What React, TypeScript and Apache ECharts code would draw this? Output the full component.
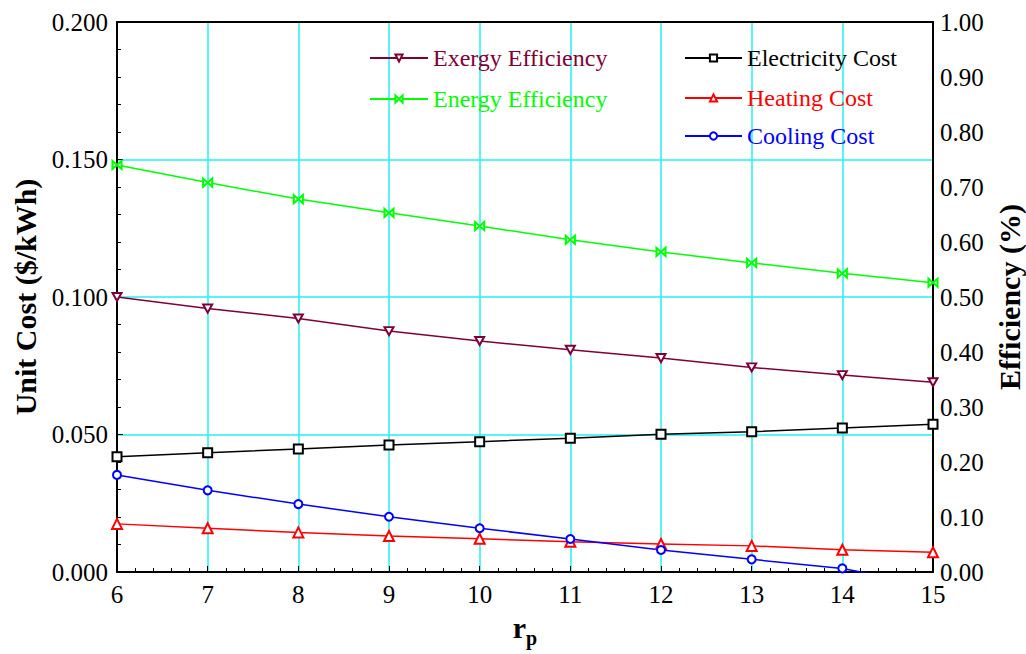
import React, { useEffect, useRef } from "react";
import * as echarts from "echarts";

const rp = [6, 7, 8, 9, 10, 11, 12, 13, 14, 15];
const exergyEff = [0.5, 0.479, 0.461, 0.438, 0.42, 0.404, 0.389, 0.372, 0.358, 0.345];
const energyEff = [0.74, 0.708, 0.678, 0.653, 0.629, 0.604, 0.582, 0.562, 0.543, 0.526];
const electricityCost = [0.0419, 0.0434, 0.0447, 0.0462, 0.0474, 0.0486, 0.0501, 0.051, 0.0524, 0.0537];
const heatingCost = [0.0175, 0.0159, 0.0144, 0.0131, 0.0121, 0.011, 0.0102, 0.0095, 0.0081, 0.0072];
const coolingCost = [0.0353, 0.0297, 0.0247, 0.0201, 0.0159, 0.012, 0.008, 0.0046, 0.0013, -0.005];

const FONT = "Liberation Serif";
const GRID_COLOR = "#22f2f2";

const pairs = (ys: number[]) => rp.map((x, i) => [x, ys[i]]);

export default function App() {
  const ref = useRef<HTMLDivElement>(null);
  useEffect(() => {
    if (!ref.current) return;
    const chart = echarts.init(ref.current, undefined, { renderer: "svg" });
    const legendBase = (name: string, color: string, left: number, top: number, w: number) => ({
      data: [name],
      left,
      top,
      orient: "horizontal",
      padding: 0,
      itemWidth: w,
      itemHeight: 9,
      selectedMode: false,
      textStyle: { color, fontSize: 24, fontFamily: FONT, lineHeight: 26 },
    });
    chart.setOption({
      animation: false,
      backgroundColor: "#fff",
      textStyle: { fontFamily: FONT },
      grid: { left: 117, right: 93, top: 22, bottom: 82, containLabel: false, outerBoundsMode: "none" },
      legend: [
        legendBase("Exergy Efficiency", "#7f0037", 369, 45, 58),
        legendBase("Energy Efficiency", "#00ff00", 369, 86, 58),
        legendBase("Electricity Cost", "#000000", 684, 45, 57),
        legendBase("Heating Cost", "#ff0000", 684, 85, 57),
        legendBase("Cooling Cost", "#0000ff", 684, 123, 57),
      ],
      xAxis: [
        {
          type: "value",
          min: 6,
          max: 15,
          interval: 1,
          position: "bottom",
          axisLine: { show: true, lineStyle: { color: "#000", width: 2 } },
          axisTick: { show: true, inside: true, length: 6, lineStyle: { color: "#000" } },
          minorTick: { show: true, splitNumber: 5, length: 4, lineStyle: { color: "#000" } },
          splitLine: { show: true, lineStyle: { color: GRID_COLOR, width: 1.5 } },
          axisLabel: { fontSize: 25, color: "#000", fontFamily: FONT, margin: 10 },
          name: "{r|r}{p|p}",
          nameLocation: "middle",
          nameGap: 40,
          nameTextStyle: {
            rich: {
              r: { fontSize: 30, fontWeight: "bold", fontFamily: FONT, color: "#000", lineHeight: 36, verticalAlign: "top" },
              p: { fontSize: 20, fontWeight: "bold", fontFamily: FONT, color: "#000", lineHeight: 36, verticalAlign: "bottom", padding: [12, 0, 0, 0] },
            },
          },
        },
        {
          type: "value",
          min: 6,
          max: 15,
          position: "top",
          axisLine: { show: true, onZero: false, lineStyle: { color: "#000", width: 2 } },
          axisTick: { show: false },
          axisLabel: { show: false },
          splitLine: { show: false },
        },
      ],
      yAxis: [
        {
          type: "value",
          min: 0,
          max: 0.2,
          interval: 0.05,
          position: "left",
          axisLine: { show: true, lineStyle: { color: "#000", width: 2 } },
          axisTick: { show: true, inside: true, length: 6, lineStyle: { color: "#000" } },
          minorTick: { show: true, splitNumber: 5, length: 4, lineStyle: { color: "#000" } },
          splitLine: { show: true, lineStyle: { color: GRID_COLOR, width: 1.5 } },
          axisLabel: { fontSize: 25, color: "#000", fontFamily: FONT, margin: 9, formatter: (v: number) => v.toFixed(3) },
          name: "Unit Cost ($/kWh)",
          nameLocation: "middle",
          nameRotate: 90,
          nameGap: 76,
          nameTextStyle: { fontSize: 30, fontWeight: "bold", fontFamily: FONT, color: "#000" },
        },
        {
          type: "value",
          min: 0,
          max: 1,
          interval: 0.1,
          position: "right",
          axisLine: { show: true, lineStyle: { color: "#000", width: 2 } },
          axisTick: { show: false },
          splitLine: { show: false },
          axisLabel: { fontSize: 25, color: "#000", fontFamily: FONT, margin: 7, formatter: (v: number) => v.toFixed(2) },
          name: "Efficiency (%)",
          nameLocation: "middle",
          nameRotate: 90,
          nameGap: 60,
          nameTextStyle: { fontSize: 30, fontWeight: "bold", fontFamily: FONT, color: "#000" },
        },
      ],
      series: [
        {
          name: "Exergy Efficiency",
          type: "line",
          yAxisIndex: 1,
          data: pairs(exergyEff),
          symbol: "emptyPath://M0 0L10 0L5 9Z",
          symbolSize: [9, 8],
          lineStyle: { color: "#7f0037", width: 1.5 },
          itemStyle: { color: "#7f0037" },
        },
        {
          name: "Energy Efficiency",
          type: "line",
          yAxisIndex: 1,
          data: pairs(energyEff),
          symbol: "emptyPath://M0 0L10 10L10 0L0 10Z",
          symbolSize: [9, 8],
          lineStyle: { color: "#00ff00", width: 1.5 },
          itemStyle: { color: "#00ff00" },
        },
        {
          name: "Electricity Cost",
          type: "line",
          yAxisIndex: 0,
          data: pairs(electricityCost),
          symbol: "emptyRect",
          symbolSize: 9,
          lineStyle: { color: "#000000", width: 1.5 },
          itemStyle: { color: "#000000" },
        },
        {
          name: "Heating Cost",
          type: "line",
          yAxisIndex: 0,
          data: pairs(heatingCost),
          symbol: "emptyTriangle",
          symbolSize: 10,
          lineStyle: { color: "#ff0000", width: 1.5 },
          itemStyle: { color: "#ff0000" },
        },
        {
          name: "Cooling Cost",
          type: "line",
          yAxisIndex: 0,
          data: pairs(coolingCost),
          symbol: "emptyCircle",
          symbolSize: 8,
          clip: true,
          lineStyle: { color: "#0000ff", width: 1.5 },
          itemStyle: { color: "#0000ff" },
        },
      ],
    });
    return () => chart.dispose();
  }, []);
  return (
    <div
      ref={ref}
      style={{ position: "fixed", left: 0, top: 0, width: 1026, height: 654, background: "#fff" }}
    />
  );
}
